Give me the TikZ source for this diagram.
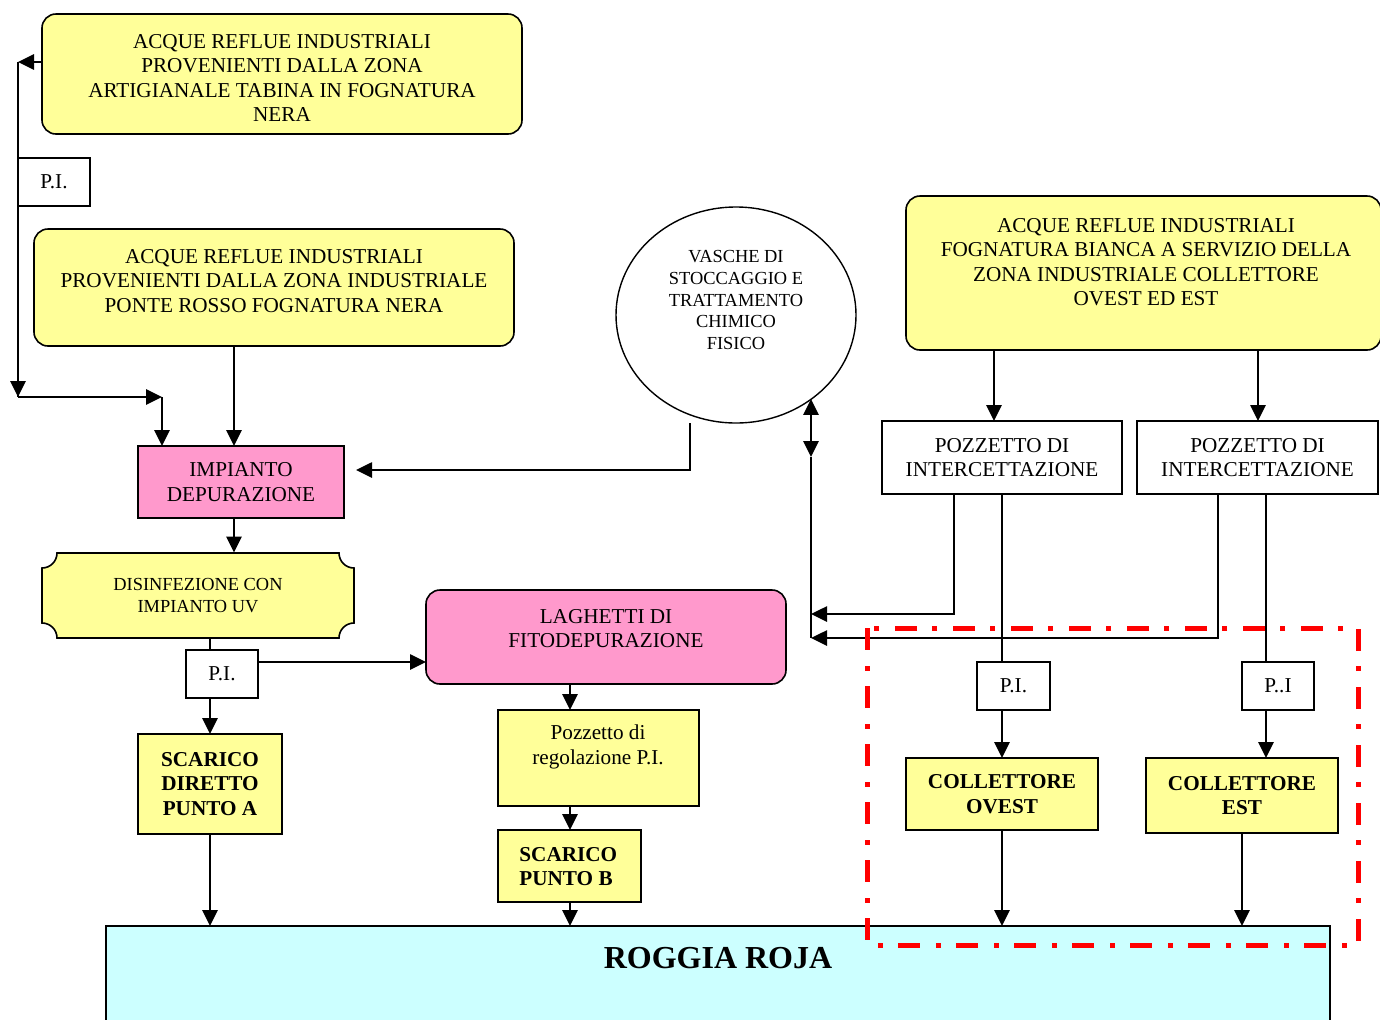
\documentclass[tikz,border=0pt]{standalone}
\usepackage{fontspec}
\setmainfont{Liberation Serif}
\usetikzlibrary{arrows.meta,shapes.geometric}
\definecolor{yel}{HTML}{FFFF99}
\definecolor{pnk}{HTML}{FF99CC}
\definecolor{cyn}{HTML}{CCFFFF}
\begin{document}
\begin{tikzpicture}[x=0.5pt,y=-0.5pt,
  >={Triangle[length=8pt,width=7.5pt]},
  shp/.style={draw, line width=0.8pt, inner sep=0pt, outer sep=0pt},
  sz/.style 2 args={minimum width=#1pt, minimum height=#2pt},
  ybox/.style={shp, fill=yel},
  yround/.style={shp, fill=yel, rounded corners=7pt},
  pbox/.style={shp, fill=pnk},
  wbox/.style={shp, fill=white},
  txt/.style={align=center, inner sep=0pt, font=\fontsize{10.6}{12.25}\selectfont},
  stxt/.style={align=center, inner sep=0pt, font=\fontsize{9.2}{10.8}\selectfont},
  btxt/.style={align=center, inner sep=0pt, font=\bfseries\fontsize{10.6}{12.25}\selectfont},
  conn/.style={line width=1.35pt},
  arr/.style={conn, ->}
]
\useasboundingbox (0,0) rectangle (1380,1019);
\clip (0,0) rectangle (1380,1019);

% ---------- shapes ----------
\node[yround, sz={240}{60}] (boxA) at (282,74) {};
\node[txt] (tA) at (282,78)
  {ACQUE REFLUE INDUSTRIALI\\PROVENIENTI DALLA ZONA\\ARTIGIANALE TABINA IN FOGNATURA\\NERA};
\node[yround, sz={240}{58.5}] (boxB) at (274,287.5) {};
\node[txt] (tB) at (274,281)
  {ACQUE REFLUE INDUSTRIALI\\PROVENIENTI DALLA ZONA INDUSTRIALE\\PONTE ROSSO FOGNATURA NERA};
\node[pbox, txt, sz={103}{36}] (imp) at (241,482) {IMPIANTO\\DEPURAZIONE};
\node[shp, ellipse, line width=0.7pt, sz={120}{108}] (circ) at (736,315) {};
\node[stxt] (tcirc) at (736,300) {VASCHE DI\\STOCCAGGIO E\\TRATTAMENTO\\CHIMICO\\FISICO};
\node[yround, sz={237.5}{77}] (boxC) at (1143.5,273) {};
\node[txt] (tC) at (1146,262)
  {ACQUE REFLUE INDUSTRIALI\\FOGNATURA BIANCA A SERVIZIO DELLA\\ZONA INDUSTRIALE COLLETTORE\\OVEST ED EST};
\node[wbox, txt, sz={120}{36.5}] (pz1) at (1002,457.5) {POZZETTO DI\\INTERCETTAZIONE};
\node[wbox, txt, sz={120.5}{36.5}] (pz2) at (1257.5,457.5) {POZZETTO DI\\INTERCETTAZIONE};
\node[wbox, txt, sz={36.5}{24}] (piO) at (1013.5,686) {P.I.};
\node[wbox, txt, sz={36}{24}] (piE) at (1278,686) {P..I};
\node[ybox, btxt, sz={96}{36}] (colO) at (1002,794) {COLLETTORE\\OVEST};
\node[ybox, btxt, sz={96}{37.5}] (colE) at (1242,795.5) {COLLETTORE\\EST};
\node[shp, fill=cyn, sz={612}{52}] (rog) at (718,978) {};
\node[inner sep=0pt, font=\bfseries\fontsize{16}{19}\selectfont] (trog) at (718,958) {ROGGIA ROJA};

% disinfezione (concave corners)
\draw[shp, fill=yel] (57,553) -- (339,553) arc[start angle=180,end angle=90,radius=15]
  -- (354,623) arc[start angle=270,end angle=180,radius=15]
  -- (57,638) arc[start angle=0,end angle=-90,radius=15]
  -- (42,568) arc[start angle=90,end angle=0,radius=15] -- cycle;
\node[stxt, sz={156}{42.5}] (dis) at (198,595.5) {DISINFEZIONE CON\\IMPIANTO UV};

\node[wbox, txt, sz={36}{24}] (PI2) at (222,674) {P.I.};
\node[ybox, btxt, sz={72}{50}] (scA) at (210,784) {SCARICO\\DIRETTO\\PUNTO A};
\node[pbox, rounded corners=7pt, sz={180}{47}] (lag) at (606,637) {};
\node[txt] (tlag) at (606,628.5) {LAGHETTI DI\\FITODEPURAZIONE};
\node[ybox, sz={100.5}{48}] (preg) at (598.5,758) {};
\node[txt] (tpreg) at (598,747) {Pozzetto di\\regolazione P.I.};
\node[ybox, sz={71.5}{36}] (scB) at (569.5,866) {};
\node[btxt, align=left, anchor=west] (tscB) at (519,866.5) {SCARICO\\PUNTO B};

% ---------- helper coordinates ----------
\coordinate (L1) at (18,62);
\coordinate (L2) at (18,397);
\coordinate (L3) at (162,397);
\coordinate (V0) at (811,614);
\coordinate (V1) at (811,457);
\coordinate (V2) at (811,638);
\coordinate (xC1) at (994,0);
\coordinate (xC2) at (1258,0);
\coordinate (xO) at (1002,0);
\coordinate (xE) at (1266,0);
\coordinate (xA) at (210,0);
\coordinate (xB) at (570,0);

% ---------- connectors ----------
\draw[conn] (L1) -- (L2);
\node[wbox, txt, sz={36}{24}] (PI1) at (54,182) {P.I.};
\draw[arr] ([yshift=6pt]boxA.west) -- (L1);
\draw[arr] (L1) -- (L2);
\draw[arr] (L2) -- (L3);
\draw[arr] (L3) -- (L3 |- imp.north);
\draw[arr] ([xshift=-20pt]boxB.south) -- ([xshift=-3.5pt]imp.north);
\draw[arr] ([xshift=-23pt]circ.south) |- ([xshift=6pt,yshift=6pt]imp.east);
\draw[conn, <->] (V1 |- circ.-48) -- (V1);
\draw[conn] (V1) -- (V2);
\draw[arr] (xC1 |- boxC.south) -- (xC1 |- pz1.north);
\draw[arr] (xC2 |- boxC.south) -- (xC2 |- pz2.north);
\draw[arr] ([xshift=-24pt]pz1.south) |- (V0);
\draw[arr] ([xshift=-19.75pt]pz2.south) |- (V2);
\draw[conn] (xO |- pz1.south) -- (xO |- piO.north);
\draw[arr] (xO |- piO.south) -- (colO.north);
\draw[conn] (xE |- pz2.south) -- (xE |- piE.north);
\draw[arr] (xE |- piE.south) -- (xE |- colE.north);
\draw[arr] (colO.south) -- (colO.south |- rog.north);
\draw[arr] (colE.south) -- (colE.south |- rog.north);
\draw[arr] ([xshift=-3.5pt]imp.south) -- ([xshift=-3.5pt]imp.south |- dis.north);
\draw[conn] (xA |- dis.south) -- (xA |- PI2.north);
\draw[arr] ([yshift=6pt]PI2.east) -- ([yshift=6pt]PI2.east -| lag.west);
\draw[arr] (xA |- PI2.south) -- (scA.north);
\draw[arr] (scA.south) -- (scA.south |- rog.north);
\draw[arr] (xB |- lag.south) -- (xB |- preg.north);
\draw[arr] (xB |- preg.south) -- (xB |- scB.north);
\draw[arr] (xB |- scB.south) -- (xB |- rog.north);

% red dash-dot frame
\draw[red, line width=2.5pt, dash pattern=on 11pt off 8pt on 2.5pt off 7.5pt]
  (867,628) rectangle (1358,945);
\end{tikzpicture}
\end{document}
